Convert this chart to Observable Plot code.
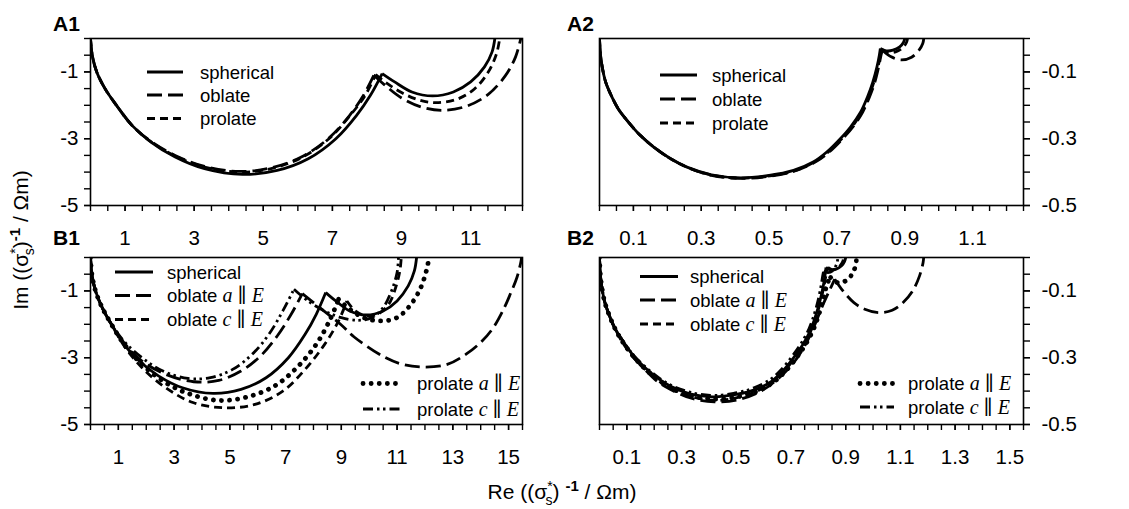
<!DOCTYPE html>
<html>
<head>
<meta charset="utf-8">
<script src="https://cdn.jsdelivr.net/npm/d3@7"></script>
<script src="https://cdn.jsdelivr.net/npm/@observablehq/plot@0.6"></script>
<style>
  html, body { margin: 0; padding: 0; background: #fff; }
  #fig { position: relative; width: 1129px; height: 509px; overflow: hidden; background: #fff; }
  #fig > div { position: absolute; }
  #overlay { position: absolute; left: 0; top: 0; pointer-events: none; }
</style>
</head>
<body>
<div id="fig"></div>
<script>
// ---------- Panel A1: Re/Im of (sigma*)^-1, low-frequency range ----------
const a1Spherical1 = [[0,0],[0.05,-0.5],[0.18,-1.0],[0.42,-1.5],[0.75,-2.0],[1.2,-2.6],[1.75,-3.1],[2.45,-3.55],[3.3,-3.9],[4.4,-4.07],[5.4,-3.95],[6.3,-3.6],[7.1,-3.0],[7.7,-2.3],[8.1,-1.7],[8.44,-1.05]];
const a1Spherical2 = [[8.44,-1.05],[8.8,-1.3],[9.3,-1.6],[9.9,-1.72],[10.5,-1.6],[11.0,-1.3],[11.4,-0.85],[11.62,-0.4],[11.7,0]];
const a1Oblate1 = [[0,0],[0.05,-0.5],[0.18,-1.0],[0.42,-1.5],[0.75,-2.0],[1.2,-2.6],[1.75,-3.08],[2.45,-3.5],[3.3,-3.83],[4.3,-3.98],[5.2,-3.88],[6.1,-3.55],[6.9,-2.98],[7.5,-2.3],[7.9,-1.7],[8.2,-1.1]];
const a1Oblate2 = [[8.2,-1.1],[8.5,-1.38],[9.0,-1.78],[9.6,-2.06],[10.2,-2.15],[10.9,-2.02],[11.5,-1.68],[12.0,-1.12],[12.3,-0.55],[12.45,0]];
const a1Prolate1 = [[0,0],[0.05,-0.5],[0.18,-1.0],[0.42,-1.5],[0.75,-2.0],[1.2,-2.6],[1.75,-3.09],[2.45,-3.52],[3.3,-3.85],[4.3,-4.0],[5.2,-3.9],[6.1,-3.57],[6.9,-3.0],[7.5,-2.32],[7.95,-1.7],[8.25,-1.08]];
const a1Prolate2 = [[8.25,-1.08],[8.55,-1.32],[9.0,-1.62],[9.5,-1.84],[10.0,-1.92],[10.6,-1.82],[11.1,-1.52],[11.5,-1.02],[11.75,-0.45],[11.84,0]];

// ---------- Panel A2 ----------
const a2Spherical1 = [[0,0],[0.003,-0.05],[0.008,-0.085],[0.018,-0.13],[0.032,-0.165],[0.055,-0.21],[0.081,-0.245],[0.12,-0.29],[0.16,-0.325],[0.21,-0.36],[0.258,-0.385],[0.33,-0.408],[0.415,-0.417],[0.5,-0.41],[0.572,-0.395],[0.63,-0.37],[0.67,-0.34],[0.71,-0.3],[0.74,-0.265],[0.77,-0.22],[0.79,-0.175],[0.806,-0.13],[0.818,-0.085],[0.825,-0.05],[0.828,-0.03]];
const a2Spherical2 = [[0.828,-0.03],[0.845,-0.037],[0.865,-0.035],[0.885,-0.025],[0.896,-0.012],[0.9,0]];
const a2Oblate1 = [[0,0],[0.003,-0.05],[0.008,-0.085],[0.018,-0.13],[0.032,-0.165],[0.055,-0.21],[0.081,-0.245],[0.12,-0.29],[0.16,-0.325],[0.21,-0.36],[0.26,-0.386],[0.33,-0.41],[0.42,-0.419],[0.505,-0.412],[0.578,-0.396],[0.636,-0.37],[0.677,-0.34],[0.717,-0.3],[0.747,-0.265],[0.776,-0.22],[0.796,-0.175],[0.812,-0.13],[0.823,-0.085],[0.83,-0.05],[0.834,-0.035]];
const a2Oblate2 = [[0.834,-0.035],[0.86,-0.055],[0.89,-0.064],[0.92,-0.056],[0.942,-0.035],[0.953,-0.015],[0.956,0]];
const a2Prolate1 = [[0,0],[0.003,-0.05],[0.008,-0.085],[0.018,-0.13],[0.032,-0.165],[0.055,-0.21],[0.081,-0.245],[0.12,-0.29],[0.16,-0.325],[0.21,-0.36],[0.259,-0.386],[0.33,-0.409],[0.418,-0.418],[0.503,-0.411],[0.575,-0.396],[0.633,-0.37],[0.674,-0.34],[0.714,-0.3],[0.744,-0.265],[0.773,-0.22],[0.793,-0.175],[0.809,-0.13],[0.821,-0.085],[0.828,-0.05],[0.831,-0.032]];
const a2Prolate2 = [[0.831,-0.032],[0.85,-0.041],[0.873,-0.04],[0.893,-0.028],[0.905,-0.012],[0.908,0]];

// ---------- Panel B1 ----------
const b1Spherical1 = a1Spherical1;
const b1Spherical2 = a1Spherical2;
const b1OblateA1 = [[0,0],[0.05,-0.5],[0.18,-1.0],[0.42,-1.5],[0.75,-2.0],[1.25,-2.6],[1.85,-3.1],[2.7,-3.5],[3.7,-3.72],[4.6,-3.68],[5.4,-3.4],[6.1,-2.95],[6.7,-2.35],[7.2,-1.7],[7.6,-1.08]];
const b1OblateA2 = [[7.6,-1.08],[8.27,-1.53],[9.0,-2.02],[9.46,-2.38],[10.54,-2.98],[11.2,-3.2],[11.97,-3.28],[12.8,-3.2],[13.5,-2.88],[14.05,-2.5],[14.47,-2.08],[14.85,-1.5],[15.07,-1.08],[15.3,-0.6],[15.43,-0.18],[15.47,0]];
const b1OblateC1 = [[0,0],[0.05,-0.5],[0.18,-1.0],[0.42,-1.5],[0.75,-2.0],[1.25,-2.7],[1.85,-3.3],[2.7,-3.9],[3.7,-4.35],[4.8,-4.5],[5.9,-4.4],[6.9,-4.0],[7.7,-3.35],[8.4,-2.6],[8.9,-1.9],[9.2,-1.3]];
const b1OblateC2 = [[9.2,-1.3],[9.5,-1.6],[9.9,-1.75],[10.3,-1.7],[10.7,-1.4],[10.95,-0.9],[11.1,-0.4],[11.15,0]];
const b1ProlateA1 = [[0,0],[0.05,-0.5],[0.18,-1.0],[0.42,-1.5],[0.75,-2.0],[1.25,-2.65],[1.85,-3.2],[2.7,-3.75],[3.6,-4.1],[4.6,-4.28],[5.6,-4.18],[6.6,-3.85],[7.4,-3.3],[8.1,-2.6],[8.6,-1.85],[8.9,-1.25]];
const b1ProlateA2 = [[8.9,-1.25],[9.3,-1.55],[9.8,-1.8],[10.4,-1.9],[11.0,-1.8],[11.5,-1.4],[11.85,-0.9],[12.05,-0.4],[12.15,0]];
const b1ProlateC1 = [[0,0],[0.05,-0.5],[0.18,-1.0],[0.42,-1.5],[0.75,-2.0],[1.25,-2.55],[1.85,-3.0],[2.6,-3.4],[3.5,-3.62],[4.3,-3.6],[5.1,-3.35],[5.8,-2.9],[6.4,-2.3],[6.9,-1.6],[7.3,-0.95]];
const b1ProlateC2 = [[7.3,-0.95],[7.8,-1.3],[8.4,-1.6],[9.0,-1.8],[9.6,-1.88],[10.1,-1.8],[10.5,-1.5],[10.8,-1.0],[11.0,-0.45],[11.05,0]];

// ---------- Panel B2 ----------
const b2Spherical1 = a2Spherical1;
const b2Spherical2 = a2Spherical2;
const b2OblateA1 = [[0,0],[0.003,-0.05],[0.008,-0.085],[0.018,-0.13],[0.032,-0.165],[0.055,-0.21],[0.081,-0.245],[0.12,-0.295],[0.16,-0.33],[0.21,-0.37],[0.26,-0.395],[0.33,-0.42],[0.42,-0.432],[0.51,-0.425],[0.59,-0.4],[0.65,-0.365],[0.705,-0.32],[0.75,-0.265],[0.785,-0.205],[0.815,-0.145],[0.84,-0.1],[0.86,-0.065]];
const b2OblateA2 = [[0.86,-0.065],[0.89,-0.1],[0.93,-0.135],[0.97,-0.155],[1.02,-0.165],[1.07,-0.158],[1.11,-0.135],[1.145,-0.1],[1.17,-0.055],[1.183,-0.015],[1.185,0]];
const b2OblateC1 = [[0,0],[0.003,-0.05],[0.008,-0.085],[0.018,-0.13],[0.032,-0.165],[0.055,-0.21],[0.081,-0.25],[0.12,-0.295],[0.16,-0.33],[0.21,-0.365],[0.26,-0.392],[0.33,-0.415],[0.42,-0.428],[0.5,-0.42],[0.57,-0.402],[0.63,-0.375],[0.675,-0.34],[0.715,-0.3],[0.745,-0.262],[0.775,-0.215],[0.795,-0.17],[0.81,-0.125],[0.822,-0.08],[0.83,-0.045],[0.835,-0.03]];
const b2OblateC2 = [[0.835,-0.03],[0.85,-0.036],[0.868,-0.033],[0.882,-0.022],[0.89,-0.01],[0.892,0]];
const b2ProlateA1 = [[0,0],[0.003,-0.05],[0.008,-0.085],[0.018,-0.13],[0.032,-0.165],[0.055,-0.21],[0.081,-0.248],[0.12,-0.292],[0.16,-0.328],[0.21,-0.363],[0.26,-0.39],[0.33,-0.413],[0.42,-0.424],[0.505,-0.417],[0.578,-0.4],[0.636,-0.373],[0.68,-0.34],[0.72,-0.3],[0.752,-0.262],[0.782,-0.215],[0.802,-0.17],[0.818,-0.125],[0.83,-0.085],[0.84,-0.065],[0.845,-0.06]];
const b2ProlateA2 = [[0.845,-0.06],[0.87,-0.075],[0.9,-0.07],[0.925,-0.048],[0.937,-0.02],[0.94,0]];
const b2ProlateC1 = [[0,0],[0.003,-0.05],[0.008,-0.085],[0.018,-0.13],[0.032,-0.165],[0.055,-0.21],[0.081,-0.244],[0.12,-0.288],[0.16,-0.322],[0.21,-0.356],[0.26,-0.382],[0.33,-0.403],[0.405,-0.413],[0.49,-0.407],[0.565,-0.39],[0.625,-0.365],[0.665,-0.335],[0.705,-0.295],[0.735,-0.26],[0.765,-0.215],[0.785,-0.17],[0.8,-0.125],[0.811,-0.08],[0.817,-0.05],[0.82,-0.04]];
const b2ProlateC2 = [[0.82,-0.04],[0.835,-0.045],[0.852,-0.04],[0.864,-0.025],[0.87,-0.01],[0.871,0]];

// ---------- Tick labels ----------
const a1XLabels = [1, 3, 5, 7, 9, 11];
const b1XLabels = [1, 3, 5, 7, 9, 11, 13, 15];
const a2XLabels = [0.1, 0.3, 0.5, 0.7, 0.9, 1.1];
const b2XLabels = [0.1, 0.3, 0.5, 0.7, 0.9, 1.1, 1.3, 1.5];
const lowYLabels = [-1, -3, -5];
const highYLabels = [-0.1, -0.3, -0.5];

// ---------- Line styles ----------
const solid = {dash: null, width: 2.8, cap: "butt"};
const longDash = {dash: "15,6", width: 2.8, cap: "butt"};
const shortDash = {dash: "8,5", width: 2.8, cap: "butt"};
const dotted = {dash: "0.1,8", width: 4.8, cap: "round"};
const dashDotDot = {dash: "10,4,2.5,3.5,2.5,4", width: 2.8, cap: "butt"};

const FONT = '"Liberation Sans", Arial, sans-serif';
const SERIF = '"Liberation Serif", "DejaVu Serif", serif';

const fig = document.getElementById("fig");

function minorTicks(max, step) {
  return d3.range(0, Math.round(max / step) + 1).map(i => +(i * step).toFixed(4));
}

function panel(cfg) {
  const marks = [];
  for (const s of cfg.series) {
    for (const arc of s.arcs) {
      marks.push(Plot.line(arc, {
        x: d => d[0], y: d => d[1],
        stroke: "#000", strokeWidth: s.style.width,
        strokeDasharray: s.style.dash, strokeLinecap: s.style.cap,
        curve: "catmull-rom", clip: true
      }));
    }
  }
  const tickStyle = {tickSize: 6, strokeWidth: 1.4, label: null};
  marks.push(Plot.axisX(minorTicks(cfg.xDomain[1], cfg.xStep), {...tickStyle, tickFormat: () => ""}));
  marks.push(Plot.axisX(cfg.xLabels, {...tickStyle, tickPadding: 19, tickFormat: d => String(d)}));
  marks.push(Plot.axisY(minorTicks(-cfg.yDomain[0], cfg.yStep).map(v => -v), {...tickStyle, anchor: cfg.yAnchor, tickFormat: () => ""}));
  marks.push(Plot.axisY(cfg.yLabels, {...tickStyle, anchor: cfg.yAnchor, tickPadding: cfg.yPad, tickFormat: d => String(d)}));
  marks.push(Plot.frame({stroke: "#000", strokeWidth: 1.6}));

  const svg = Plot.plot({
    width: cfg.width, height: cfg.height,
    marginTop: cfg.m[0], marginRight: cfg.m[1], marginBottom: cfg.m[2], marginLeft: cfg.m[3],
    x: {domain: cfg.xDomain},
    y: {domain: cfg.yDomain},
    style: {fontFamily: FONT, fontSize: "20.5px", color: "#000", background: "transparent", overflow: "visible"},
    marks
  });
  const holder = document.createElement("div");
  holder.style.left = cfg.left + "px";
  holder.style.top = cfg.top + "px";
  holder.style.width = cfg.width + "px";
  holder.style.height = cfg.height + "px";
  holder.appendChild(svg);
  fig.appendChild(holder);
}

panel({
  left: 0, top: 0, width: 545, height: 250, m: [38, 23, 45, 90],
  xDomain: [0, 12.5], yDomain: [-5, 0], xStep: 0.5, yStep: 0.5,
  xLabels: a1XLabels, yLabels: lowYLabels, yAnchor: "left", yPad: 6,
  series: [
    {arcs: [a1Spherical1, a1Spherical2], style: solid},
    {arcs: [a1Oblate1, a1Oblate2], style: longDash},
    {arcs: [a1Prolate1, a1Prolate2], style: shortDash}
  ]
});

panel({
  left: 560, top: 0, width: 569, height: 250, m: [38, 106, 45, 39],
  xDomain: [0, 1.25], yDomain: [-0.5, 0], xStep: 0.05, yStep: 0.05,
  xLabels: a2XLabels, yLabels: highYLabels, yAnchor: "right", yPad: 12,
  series: [
    {arcs: [a2Spherical1, a2Spherical2], style: solid},
    {arcs: [a2Oblate1, a2Oblate2], style: longDash},
    {arcs: [a2Prolate1, a2Prolate2], style: shortDash}
  ]
});

panel({
  left: 0, top: 250, width: 545, height: 259, m: [7, 23, 85, 90],
  xDomain: [0, 15.5], yDomain: [-5, 0], xStep: 0.5, yStep: 0.5,
  xLabels: b1XLabels, yLabels: lowYLabels, yAnchor: "left", yPad: 6,
  series: [
    {arcs: [b1Spherical1, b1Spherical2], style: solid},
    {arcs: [b1OblateA1, b1OblateA2], style: longDash},
    {arcs: [b1OblateC1, b1OblateC2], style: shortDash},
    {arcs: [b1ProlateA1, b1ProlateA2], style: dotted},
    {arcs: [b1ProlateC1, b1ProlateC2], style: dashDotDot}
  ]
});

panel({
  left: 560, top: 250, width: 569, height: 259, m: [7, 106, 85, 39],
  xDomain: [0, 1.55], yDomain: [-0.5, 0], xStep: 0.05, yStep: 0.05,
  xLabels: b2XLabels, yLabels: highYLabels, yAnchor: "right", yPad: 12,
  series: [
    {arcs: [b2Spherical1, b2Spherical2], style: solid},
    {arcs: [b2OblateA1, b2OblateA2], style: longDash},
    {arcs: [b2OblateC1, b2OblateC2], style: shortDash},
    {arcs: [b2ProlateA1, b2ProlateA2], style: dotted},
    {arcs: [b2ProlateC1, b2ProlateC2], style: dashDotDot}
  ]
});

// ---------- Overlay: panel tags, legends, axis titles ----------
const overlay = d3.select(fig).append("svg")
  .attr("id", "overlay")
  .attr("width", 1129).attr("height", 509)
  .attr("font-family", FONT);

const tags = [["A1", 53, 31], ["A2", 567, 31], ["B1", 53, 245], ["B2", 567, 245]];
for (const [t, x, y] of tags) {
  overlay.append("text").attr("x", x).attr("y", y)
    .attr("font-size", 21).attr("font-weight", "bold").text(t);
}

// plain label, or label with an orientation "<axis> ∥ E"
const plainLabel = name => [{t: name}];
const orientLabel = (name, axis) => [{t: name + " "}, {t: axis, serif: true, italic: true}, {t: " \u2225 ", serif: true}, {t: "E", serif: true, italic: true}];

function legend(x1, x2, tx, rows) {
  for (const r of rows) {
    overlay.append("line")
      .attr("x1", x1).attr("x2", x2).attr("y1", r.y).attr("y2", r.y)
      .attr("stroke", "#000").attr("stroke-width", r.style.width)
      .attr("stroke-dasharray", r.style.dash)
      .attr("stroke-linecap", r.style.cap);
    const text = overlay.append("text").attr("x", tx).attr("y", r.y + 6.5).attr("font-size", 18.5);
    for (const p of r.parts) {
      const span = text.append("tspan").text(p.t);
      if (p.serif) span.attr("font-family", SERIF).attr("font-size", 20);
      if (p.italic) span.attr("font-style", "italic");
    }
  }
}

legend(147, 183, 200, [
  {y: 72, style: solid, parts: plainLabel("spherical")},
  {y: 95, style: longDash, parts: plainLabel("oblate")},
  {y: 118.5, style: shortDash, parts: plainLabel("prolate")}
]);
legend(660, 697, 712, [
  {y: 75, style: solid, parts: plainLabel("spherical")},
  {y: 99, style: longDash, parts: plainLabel("oblate")},
  {y: 123, style: shortDash, parts: plainLabel("prolate")}
]);
legend(115, 153, 167, [
  {y: 272, style: solid, parts: plainLabel("spherical")},
  {y: 295.5, style: longDash, parts: orientLabel("oblate", "a")},
  {y: 319.5, style: shortDash, parts: orientLabel("oblate", "c")}
]);
legend(363, 400, 417, [
  {y: 383.5, style: dotted, parts: orientLabel("prolate", "a")},
  {y: 409, style: dashDotDot, parts: orientLabel("prolate", "c")}
]);
legend(640, 678, 690, [
  {y: 276.5, style: solid, parts: plainLabel("spherical")},
  {y: 300, style: longDash, parts: orientLabel("oblate", "a")},
  {y: 324, style: shortDash, parts: orientLabel("oblate", "c")}
]);
legend(860, 894, 908, [
  {y: 383.5, style: dotted, parts: orientLabel("prolate", "a")},
  {y: 407, style: dashDotDot, parts: orientLabel("prolate", "c")}
]);

// axis titles with sigma*_s and the -1 exponent
function axisTitle(sel, lead, gap) {
  sel.append("tspan").text(lead + "((\u03c3");
  sel.append("tspan").attr("font-size", 14).attr("dy", -8).text("*");
  sel.append("tspan").attr("font-size", 14).attr("dx", -7).attr("dy", 14).text("s");
  sel.append("tspan").attr("dy", -6).text(")" + gap);
  sel.append("tspan").attr("font-size", 15).attr("font-weight", "bold").attr("dy", -8).text("-1");
  sel.append("tspan").attr("dy", 8).text(" / \u03a9m)");
}

const xTitle = overlay.append("text").attr("x", 562).attr("y", 499)
  .attr("font-size", 21).attr("text-anchor", "middle");
axisTitle(xTitle, "Re ", " ");

const yTitle = overlay.append("text").attr("transform", "translate(28,240) rotate(-90)")
  .attr("font-size", 21).attr("text-anchor", "middle");
axisTitle(yTitle, "Im ", "");
</script>
</body>
</html>
